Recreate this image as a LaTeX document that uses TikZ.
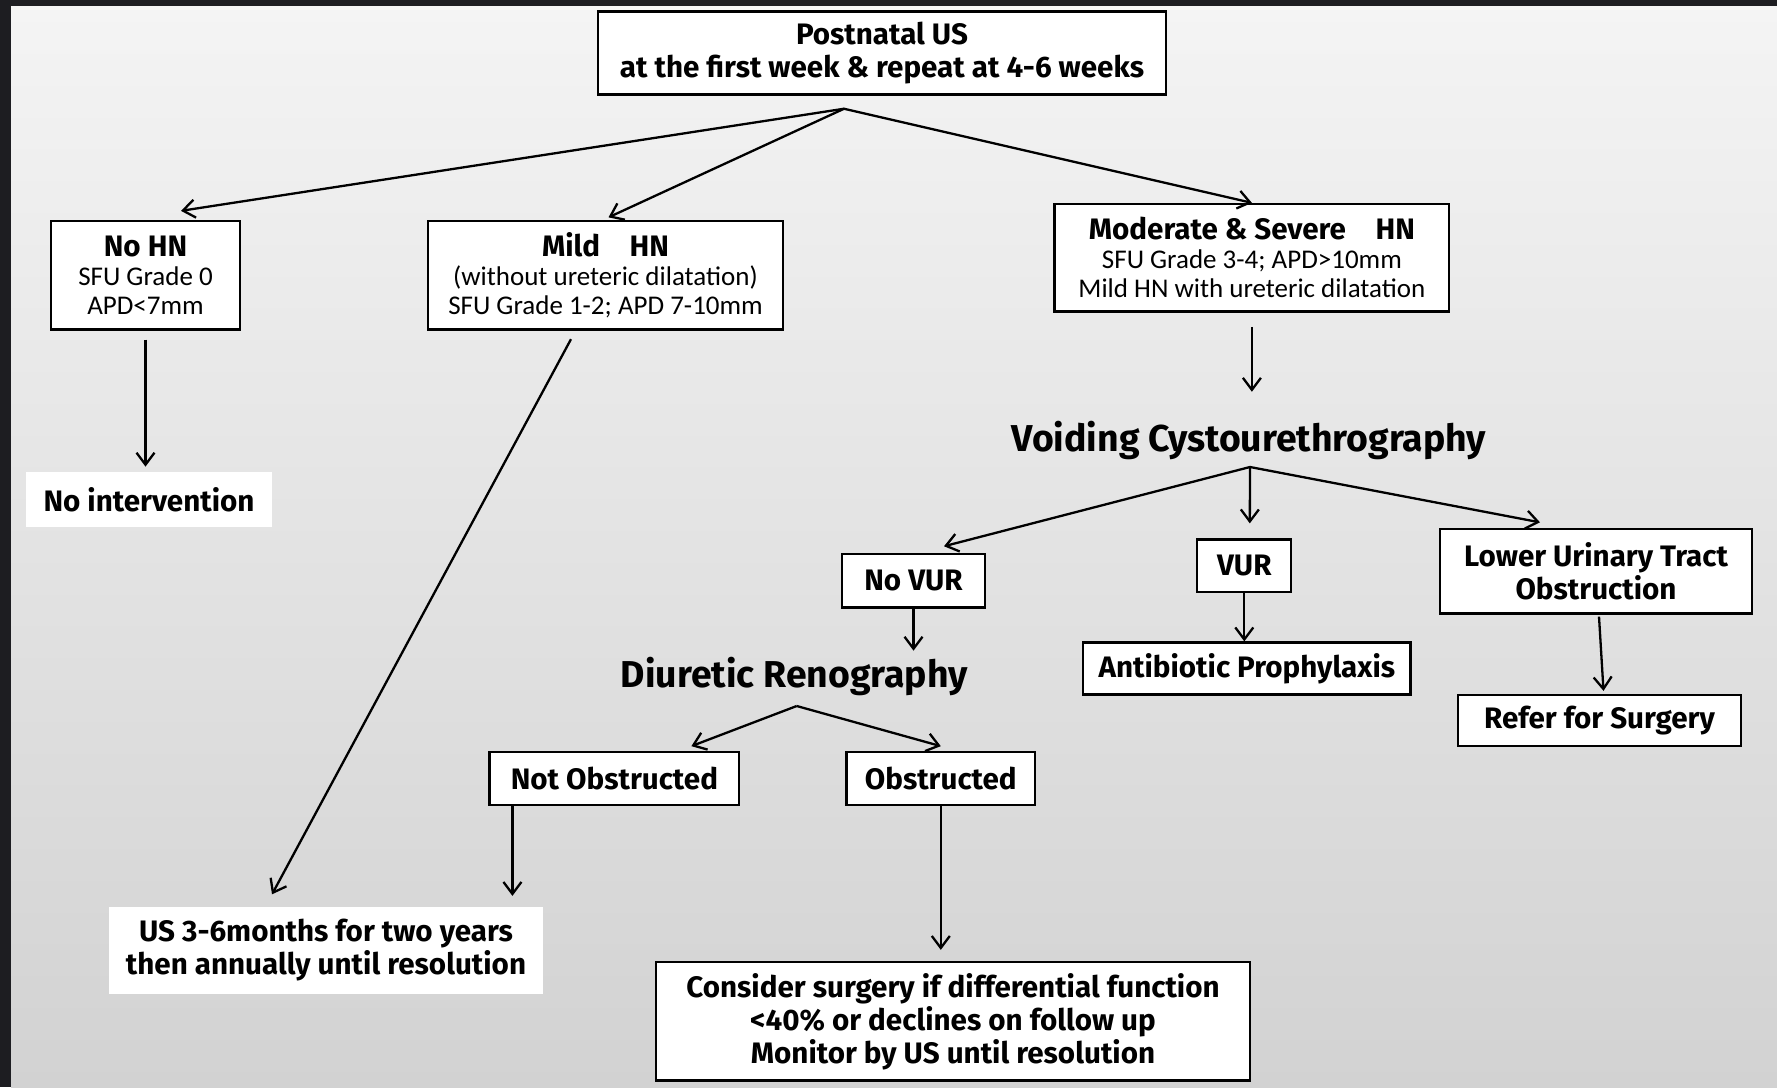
\documentclass[tikz,border=0pt]{standalone}
\usepackage{fontspec}
\setmainfont{Fira Sans}
\newfontfamily\carl{Carlito}
\usetikzlibrary{arrows.meta,calc}
\definecolor{bgdark}{HTML}{1D1D21}
\definecolor{bgtop}{HTML}{F4F4F4}
\definecolor{bgbot}{HTML}{D2D2D2}
\newcommand\hdtxt[1]{{\rmfamily\bfseries\fontsize{14.8pt}{14.5pt}\selectfont #1}}
\begin{document}
\begin{tikzpicture}[x=0.5pt,y=-0.5pt,
  box/.style={draw=black,line width=1.15pt,fill=white,inner sep=0pt,align=center},
  bt/.style={font=\bfseries\fontsize{14.8pt}{16.5pt}\selectfont},
  mix/.style={font=\carl\fontsize{13.5pt}{14.5pt}\selectfont},
  head/.style={font=\bfseries\fontsize{18.7pt}{22pt}\selectfont,inner sep=0pt,anchor=base},
  plain/.style={fill=white,inner sep=0pt,align=center},
  arr/.style={line width=1.15pt,-{Straight Barb[length=6pt,width=9pt]}}]
\useasboundingbox (0,0) rectangle (1777,1087);
\fill[bgdark] (0,0) rectangle (1777,1087);
\shade[top color=bgtop,bottom color=bgbot] (11,6) rectangle (1777,1087);

\node[box,bt,minimum width=284pt,minimum height=41.6pt] (top) at (882,53) {Postnatal US\\at the first week \& repeat at 4-6 weeks};
\node[box,mix,minimum width=94.5pt,minimum height=54.25pt] (nohn) at (145.5,275.25) {\hdtxt{No HN}\\SFU Grade 0\\APD<7mm};
\node[box,mix,minimum width=177.5pt,minimum height=54.25pt] (mild) at (605.5,275.25) {\hdtxt{Mild\quad HN}\\(without ureteric dilatation)\\SFU Grade 1-2; APD 7-10mm};
\node[box,mix,minimum width=197.4pt,minimum height=53.8pt] (mod) at (1251.9,257.8) {\hdtxt{Moderate \& Severe\quad HN}\\SFU Grade 3-4; APD>10mm\\Mild HN with ureteric dilatation};
\node[plain,bt,minimum width=123pt,minimum height=27.35pt] (noint) at (149,499.65) {No intervention};
\node[head] (vcu) at (1249,451) {Voiding Cystourethrography};
\node[box,bt,minimum width=71.5pt,minimum height=26.75pt] (novur) at (913.5,580.75) {No VUR};
\node[box,bt,minimum width=47pt,minimum height=26.25pt] (vur) at (1244.3,565.75) {VUR};
\node[box,bt,minimum width=156pt,minimum height=42.25pt] (luto) at (1596,571.25) {Lower Urinary Tract\\Obstruction};
\node[box,bt,minimum width=163.6pt,minimum height=26pt] (anti) at (1246.9,668.5) {Antibiotic Prophylaxis};
\node[box,bt,minimum width=141.5pt,minimum height=25.35pt] (refer) at (1599.5,720.35) {Refer for Surgery};
\node[head] (dr) at (794.4,687) {Diuretic Renography};
\node[box,bt,minimum width=124.8pt,minimum height=26.45pt] (notobs) at (614.4,778.25) {Not Obstructed};
\node[box,bt,minimum width=94.2pt,minimum height=26.45pt] (obs) at (940.8,778.25) {Obstructed};
\node[plain,bt,minimum width=217pt,minimum height=43.65pt] (us) at (326,950.35) {US 3-6months for two years\\then annually until resolution};
\node[box,bt,minimum width=297pt,minimum height=59.15pt] (consider) at (953,1021.45) {Consider surgery if differential function\\<40\% or declines on follow up\\Monitor by US until resolution};

\coordinate (b1) at ($(top.south)+(-38,13)$);
\draw[arr] (b1) -- ($(nohn.north)+(35.5,-9)$);
\draw[arr] (b1) -- ($(mild.north)+(3,-2.5)$);
\draw[arr] (b1) -- (mod.north);
\draw[arr] ($(nohn.south)+(0,9)$) -- ($(nohn.south)+(0,136)$);
\draw[arr] ($(mild.south)+(-34.5,8.5)$) -- ($(us.north)+(-54,-12)$);
\draw[arr] ($(mod.south)+(0,14)$) -- ($(mod.south)+(0,79)$);
\coordinate (b2) at ($(vcu.base)+(1,16)$);
\draw[arr] (b2) -- ($(novur.north)+(30.5,-6.6)$);
\draw[arr] (b2) -- ($(vur.north)+(5.5,-15)$);
\draw[arr] (b2) -- ($(luto.north)+(-56,-5.5)$);
\draw[arr] (novur.south) -- ($(novur.south)+(0,42)$);
\draw[arr] (vur.south) -- (vur.south |- anti.north);
\draw[arr] ($(luto.south)+(3,2)$) -- ($(refer.north)+(4,-3)$);
\coordinate (b3) at ($(dr.base)+(2.3,19)$);
\draw[arr] (b3) -- ($(notobs.north)+(77,-4.5)$);
\draw[arr] (b3) -- ($(obs.north)+(0,-4.5)$);
\draw[arr] ($(notobs.south west)+(24,0)$) -- ($(notobs.south west)+(24,90)$);
\draw[arr] (obs.south) -- ($(obs.south)+(0,144)$);
\end{tikzpicture}
\end{document}
